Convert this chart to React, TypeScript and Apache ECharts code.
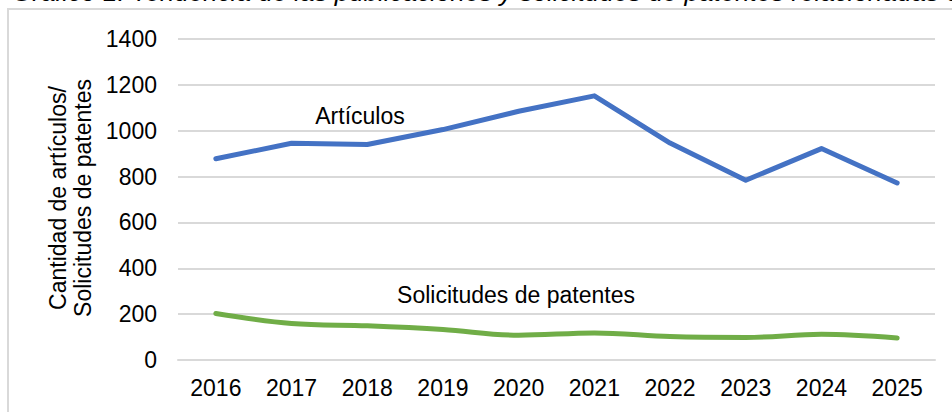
import React, { useEffect, useRef } from "react";
import * as echarts from "echarts";

const years = ["2016", "2017", "2018", "2019", "2020", "2021", "2022", "2023", "2024", "2025"];
const articulos = [878, 945, 940, 1005, 1085, 1152, 946, 784, 922, 772];
const patentes = [203, 159, 149, 133, 108, 118, 102, 98, 112, 96];
const yTicks = { min: 0, max: 1400, interval: 200 };

const FONT = '"Liberation Sans", Arial, sans-serif';

export default function App() {
  const ref = useRef<HTMLDivElement>(null);
  useEffect(() => {
    if (!ref.current) return;
    const chart = echarts.init(ref.current, null, { renderer: "svg" });
    chart.setOption({
      animation: false,
      backgroundColor: "#ffffff",
      grid: { left: 178, right: 17, top: 39, bottom: 52 },
      xAxis: {
        type: "category",
        data: years,
        boundaryGap: true,
        axisTick: { show: false },
        axisLine: { show: true, lineStyle: { color: "#d9d9d9", width: 2 } },
        axisLabel: { color: "#000", fontSize: 23, fontFamily: FONT, margin: 16 },
      },
      yAxis: {
        type: "value",
        min: yTicks.min,
        max: yTicks.max,
        interval: yTicks.interval,
        axisLine: { show: false },
        axisTick: { show: false },
        splitLine: { lineStyle: { color: "#d9d9d9", width: 2 } },
        axisLabel: {
          color: "#000",
          fontSize: 23,
          fontFamily: FONT,
          margin: 21,
          formatter: (v: number) => String(v),
        },
      },
      series: [
        {
          name: "Artículos",
          type: "line",
          data: articulos,
          symbol: "none",
          lineStyle: { color: "#4472C4", width: 5, cap: "round", join: "round" },
        },
        {
          name: "Solicitudes de patentes",
          type: "line",
          data: patentes,
          symbol: "none",
          smooth: 0.35,
          lineStyle: { color: "#70AD47", width: 5, cap: "round", join: "round" },
        },
      ],
      graphic: [
        {
          type: "rect",
          silent: true,
          shape: { x: 8, y: 9, width: 1200, height: 600 },
          style: { fill: "none", stroke: "#d9d9d9", lineWidth: 2 },
          z: -1,
        },
        {
          type: "text",
          x: 12,
          y: -8,
          style: {
            text: "Gráfico 1. Tendencia de las publicaciones y solicitudes de patentes relacionadas con la IA",
            font: `italic 26px ${FONT}`,
            fill: "#000",
            verticalAlign: "middle",
            align: "left",
          },
        },
        {
          type: "text",
          x: 70,
          y: 198,
          rotation: Math.PI / 2,
          style: {
            text: "Cantidad de artículos/\nSolicitudes de patentes",
            font: `23px ${FONT}`,
            lineHeight: 25,
            fill: "#000",
            align: "center",
            verticalAlign: "middle",
          },
        },
        {
          type: "text",
          x: 360,
          y: 116,
          style: {
            text: "Artículos",
            font: `23px ${FONT}`,
            fill: "#000",
            align: "center",
            verticalAlign: "middle",
          },
        },
        {
          type: "text",
          x: 516,
          y: 295,
          style: {
            text: "Solicitudes de patentes",
            font: `23px ${FONT}`,
            fill: "#000",
            align: "center",
            verticalAlign: "middle",
          },
        },
      ],
    });
    return () => chart.dispose();
  }, []);
  return (
    <div
      ref={ref}
      style={{ position: "fixed", left: 0, top: 0, width: 952, height: 412 }}
    />
  );
}
